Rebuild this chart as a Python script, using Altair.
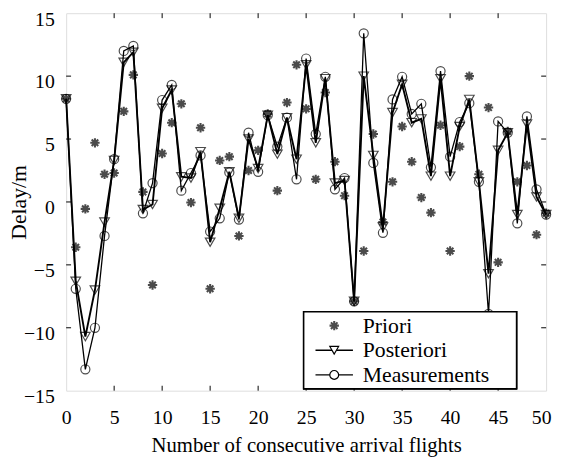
import altair as alt
import pandas as pd

flights = list(range(51))
priori = [8.2, -3.6, -0.55, 4.7, 2.2, 2.3, 7.2, 10.1, 0.8, -6.6,
          3.85, 6.3, 7.8, -0.05, 5.9, -6.9, 3.3, 3.6, -2.7, 2.5,
          4.1, 7.0, 0.9, 7.9, 10.9, 7.4, 1.8, 8.7, 3.2, 0.5,
          -7.9, -3.9, 5.4, -1.6, 1.6, 6.0, 3.2, 0.35, -0.85, 6.1,
          -3.9, 4.4, 10.0, 2.2, 7.5, -4.8, 5.6, 1.6, 2.9, -2.6, -0.9]
posteriori = [8.2, -6.3, -10.7, -7.0, -1.6, 3.3, 11.1, 11.9, -0.6, -0.2,
              7.45, 8.9, 2.0, 1.9, 4.0, -3.2, -0.5, 2.4, -1.3, 5.0,
              2.65, 6.9, 3.8, 6.7, 3.4, 10.9, 4.7, 9.8, 1.5, 1.7,
              -7.9, 10.0, 3.7, -2.0, 7.1, 9.35, 6.3, 6.6, 2.05, 9.8,
              2.05, 6.0, 8.15, 1.6, -5.7, 4.1, 5.5, -1.0, 6.2, 0.4, -1.0]
measurements = [8.2, -6.9, -13.3, -10.0, -2.7, 3.4, 12.0, 12.4, -0.9, 1.5,
                8.1, 9.3, 0.9, 2.3, 3.7, -2.35, -1.3, 2.35, -1.4, 5.5,
                2.4, 6.9, 4.4, 6.7, 1.8, 11.4, 5.4, 9.95, 1.0, 1.9,
                -7.9, 13.4, 3.1, -2.45, 8.15, 9.95, 7.0, 7.8, 2.75, 10.4,
                3.6, 6.35, 7.85, 1.6, -8.9, 6.4, 5.5, -1.7, 6.8, 1.0, -1.0]

x_ticks = [0, 5, 10, 15, 20, 25, 30, 35, 40, 45, 50]
y_ticks = [-15, -10, -5, 0, 5, 10, 15]
inner_x_ticks = [5, 10, 15, 20, 25, 30, 35, 40, 45]
inner_y_ticks = [-10, -5, 0, 5, 10]
legend_labels = ["Priori", "Posteriori", "Measurements"]

W, H = 487, 383
FONT = "'Liberation Serif', 'Times New Roman', Times, serif"
STAR = "M-1,0L1,0M0,-1L0,1M-0.7,-0.7L0.7,0.7M-0.7,0.7L0.7,-0.7"

df = pd.DataFrame({"x": flights, "priori": priori,
                   "posteriori": posteriori, "meas": measurements})

xs = alt.Scale(domain=[0, 50], nice=False, zero=False)
ys = alt.Scale(domain=[-15, 15], nice=False, zero=False)

xenc = alt.X("x:Q", scale=xs, axis=alt.Axis(
    values=x_ticks, format="d", ticks=False, domain=False, grid=False,
    labelFont=FONT, labelFontSize=20, labelColor="black", labelPadding=17,
    labelFlush=True, labelFlushOffset=5,
    title="Number of consecutive arrival flights", titleFont=FONT,
    titleFontSize=21, titleFontWeight="normal", titleColor="black",
    titleY=56, titleBaseline="middle"))

yaxis = alt.Axis(
    values=y_ticks, format="d", ticks=False, domain=False, grid=False,
    labelFont=FONT, labelFontSize=20, labelColor="black", labelPadding=12,
    labelFlush=False, labelOffset=6,
    title="Delay/m", titleFont=FONT, titleFontSize=22,
    titleFontWeight="normal", titleColor="black",
    titleX=-48, titleY=H / 2, titleBaseline="middle", titleAlign="center")

base = alt.Chart(df)

post_line = base.mark_line(color="black", strokeWidth=1.9).encode(
    x=xenc, y=alt.Y("posteriori:Q", scale=ys, axis=yaxis))
meas_line = base.mark_line(color="black", strokeWidth=1.3).encode(
    x=alt.X("x:Q", scale=xs), y=alt.Y("meas:Q", scale=ys))
post_pts = base.mark_point(shape="triangle-down", size=95, color="black",
                           filled=False, strokeWidth=1.2).encode(
    x=alt.X("x:Q", scale=xs), y=alt.Y("posteriori:Q", scale=ys))
meas_pts = base.mark_point(shape="circle", size=85, color="black",
                           filled=False, strokeWidth=1.2).encode(
    x=alt.X("x:Q", scale=xs), y=alt.Y("meas:Q", scale=ys))
pri_pts = base.mark_point(shape=STAR, size=90, color="black",
                          filled=False, strokeWidth=2.1).encode(
    x=alt.X("x:Q", scale=xs), y=alt.Y("priori:Q", scale=ys))

xt = pd.DataFrame({"t": inner_x_ticks})
yt = pd.DataFrame({"t": inner_y_ticks})
tick_top = alt.Chart(xt).mark_rule(color="black", strokeWidth=1).encode(
    x=alt.X("t:Q", scale=xs), y=alt.value(0), y2=alt.value(5))
tick_bot = alt.Chart(xt).mark_rule(color="black", strokeWidth=1).encode(
    x=alt.X("t:Q", scale=xs), y=alt.value(H), y2=alt.value(H - 5))
tick_left = alt.Chart(yt).mark_rule(color="black", strokeWidth=1).encode(
    y=alt.Y("t:Q", scale=ys), x=alt.value(0), x2=alt.value(5))
tick_right = alt.Chart(yt).mark_rule(color="black", strokeWidth=1).encode(
    y=alt.Y("t:Q", scale=ys), x=alt.value(W), x2=alt.value(W - 5))

# legend
leg = pd.DataFrame({"label": legend_labels})
lx0, lx1, ly0, ly1 = 241, 457, 303, 381
rows = [317, 342, 367]
leg_box = alt.Chart(leg).mark_rect(fill="white", stroke="black",
                                   strokeWidth=1.5).encode(
    x=alt.value(lx0), x2=alt.value(lx1), y=alt.value(ly0), y2=alt.value(ly1))
leg_layers = [leg_box]
for i, lab in enumerate(legend_labels):
    sub = alt.Chart(leg).transform_filter(alt.datum.label == lab)
    leg_layers.append(sub.mark_text(align="left", baseline="middle",
                                    font=FONT, fontSize=22, color="black").encode(
        x=alt.value(301), y=alt.value(rows[i]), text="label:N"))
    if i == 0:
        leg_layers.append(sub.mark_point(shape=STAR, size=90, color="black",
                                         filled=False, strokeWidth=2.1).encode(
            x=alt.value(272), y=alt.value(rows[i])))
    else:
        leg_layers.append(sub.mark_rule(color="black", strokeWidth=1.4).encode(
            x=alt.value(253), x2=alt.value(291), y=alt.value(rows[i])))
        leg_layers.append(sub.mark_point(
            shape="triangle-down" if i == 1 else "circle", size=80,
            filled=True, fill="white", stroke="black", strokeWidth=1.2,
            opacity=1, fillOpacity=1, strokeOpacity=1).encode(
            x=alt.value(272), y=alt.value(rows[i])))

chart = alt.layer(post_line, meas_line, post_pts, meas_pts, pri_pts,
                  tick_top, tick_bot, tick_left, tick_right, *leg_layers
                  ).properties(
    width=W, height=H, autosize="none",
    padding={"left": 59, "top": 2, "right": 8, "bottom": 65}
).configure_view(stroke="black", strokeWidth=2
).configure(background="white")

chart.save("out.html", embed_options={"renderer": "svg", "actions": False})
